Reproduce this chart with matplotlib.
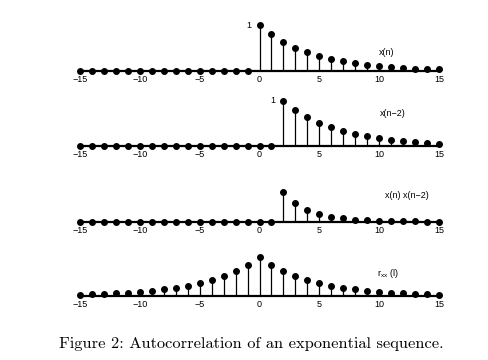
import matplotlib
matplotlib.use("Agg")
import matplotlib.pyplot as plt
import numpy as np

n = list(range(-15, 16))
x_n = [0]*15 + [1.0, 0.80, 0.64, 0.51, 0.41, 0.33, 0.26, 0.21, 0.17, 0.13, 0.11, 0.09, 0.07, 0.05, 0.04, 0.035]
x_n2 = [0]*17 + [1.0, 0.80, 0.64, 0.51, 0.41, 0.33, 0.26, 0.21, 0.17, 0.13, 0.11, 0.09, 0.07, 0.05]
prod = [0]*17 + [0.64, 0.41, 0.26, 0.17, 0.11, 0.07, 0.04, 0.03, 0.02, 0.013, 0.009, 0.006, 0.004, 0.003]
rxx = [0.10, 0.12, 0.15, 0.19, 0.24, 0.30, 0.37, 0.47, 0.58, 0.73, 0.91, 1.14, 1.42, 1.78, 2.22,
       2.78,
       2.22, 1.78, 1.42, 1.14, 0.91, 0.73, 0.58, 0.47, 0.37, 0.30, 0.24, 0.19, 0.15, 0.12, 0.10]
ticks = [-15, -10, -5, 0, 5, 10, 15]
labels = ["x(n)", "x(n\u22122)", "x(n) x(n\u22122)", r"$\mathregular{r_{xx}}$ (l)"]

W, H = 489, 360
fig = plt.figure(figsize=(W/100, H/100), dpi=100)

panels = [
    (x_n, 71, 25, 1.0, labels[0], (10.6, 0.41), 0),
    (x_n2, 146, 100.7, 1.0, labels[1], (11.1, 0.71), 2),
    (prod, 221.7, 175.7, 1.0, labels[2], (12.3, 0.58), None),
    (rxx, 296, 257.3, 2.78, labels[3], (10.7, 0.59*2.78), None),
]
x0px, x1px = 80, 439
for vals, base, top, ymax, lab, lpos, onepos in panels:
    ax = fig.add_axes([x0px/W, (H-base)/H, (x1px-x0px)/W, (base-top)/H])
    ax.set_xlim(-15, 15)
    ax.set_ylim(0, ymax)
    ml, sl, bl = ax.stem(n, vals, basefmt='k-')
    plt.setp(ml, color='black', markersize=4.0, clip_on=False, zorder=3)
    plt.setp(sl, color='black', linewidth=0.9, clip_on=False)
    plt.setp(bl, color='black', linewidth=1.6, clip_on=False)
    for s in ax.spines.values():
        s.set_visible(False)
    ax.set_yticks([])
    ax.set_xticks(ticks)
    ax.set_xticklabels([str(t).replace('-', '\u2212') for t in ticks],
                       fontsize=6.5, family='Liberation Sans')
    ax.tick_params(axis='x', length=0, pad=2.8)
    ax.patch.set_visible(False)
    ax.text(lpos[0], lpos[1], lab, fontsize=6.5, family='Liberation Sans',
            ha='center', va='center')
    if onepos is not None:
        ax.text(onepos - 0.9, 1.0, "1", fontsize=6.5, family='Liberation Sans',
                ha='center', va='center')

fig.text(251/W, 1 - 344/H, "Figure 2: Autocorrelation of an exponential sequence.",
         fontsize=11.8, family='cmr10', ha='center', va='center')

fig.savefig("out.png", dpi=100)
